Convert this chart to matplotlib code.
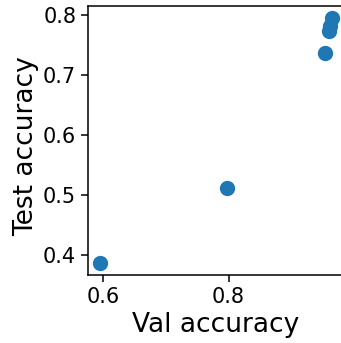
import matplotlib
matplotlib.use("Agg")
import matplotlib.pyplot as plt

val_acc = [0.594, 0.797, 0.9533, 0.960, 0.9626, 0.9658]
test_acc = [0.387, 0.511, 0.736, 0.772, 0.781, 0.794]

fig = plt.figure(figsize=(3.41, 3.43), dpi=100)
ax = fig.add_axes([88/341, 1-275/343, (344-88)/341, (275-6)/343])
ax.scatter(val_acc, test_acc, s=100, color="#1f77b4")
ax.set_xlabel("Val accuracy", fontsize=19)
ax.set_ylabel("Test accuracy", fontsize=19)
ax.tick_params(labelsize=15, length=5, width=1.1)
for sp in ax.spines.values():
    sp.set_linewidth(1.1)
ax.set_xticks([0.6, 0.8])
ax.set_yticks([0.4, 0.5, 0.6, 0.7, 0.8])
ax.yaxis.set_label_coords(-0.19, 0.48)
fig.savefig("out.png", dpi=100)
